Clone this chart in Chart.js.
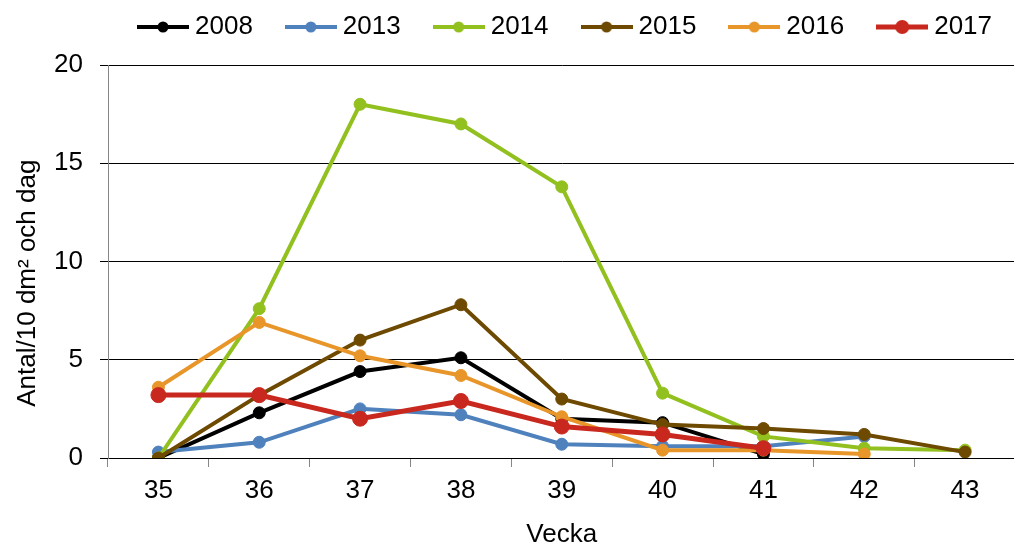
<!DOCTYPE html>
<html><head><meta charset="utf-8">
<script src="https://cdn.jsdelivr.net/npm/chart.js@4/dist/chart.umd.min.js"></script>
<style>html,body{margin:0;padding:0;overflow:hidden;background:#fff}#wrap{width:1024px;height:544px}</style>
</head><body><div id="wrap"><canvas id="c" width="1024" height="544"></canvas></div>
<script>
const weeks = ['35','36','37','38','39','40','41','42','43'];
const yTicks = [0,5,10,15,20];
const s2008 = [0, 2.3, 4.4, 5.1, 2.0, 1.8, 0.2, null, null];
const s2013 = [0.3, 0.8, 2.5, 2.2, 0.7, 0.6, 0.6, 1.1, null];
const s2014 = [0, 7.6, 18.0, 17.0, 13.8, 3.3, 1.1, 0.5, 0.4];
const s2015 = [0, 3.2, 6.0, 7.8, 3.0, 1.7, 1.5, 1.2, 0.3];
const s2016 = [3.6, 6.9, 5.2, 4.2, 2.1, 0.4, 0.4, 0.2, null];
const s2017 = [3.2, 3.2, 2.0, 2.9, 1.6, 1.2, 0.5, null, null];
const seriesNames = ['2008','2013','2014','2015','2016','2017'];
const seriesData = [s2008, s2013, s2014, s2015, s2016, s2017];
const colors = ['#000000','#4F81BD','#92C01F','#6E4A00','#E8962A','#C8281E'];
const lineWidths = [4, 4, 4, 4, 4, 5];
const pointRadii = [6, 6, 6, 6, 6, 7.5];

const FONT = "'Liberation Sans', Arial, sans-serif";
const FS = 26;

function legendIcon(color, lw, r){
  const c = document.createElement('canvas'); c.width = 52; c.height = 16;
  const x = c.getContext('2d');
  x.strokeStyle = color; x.lineWidth = lw;
  x.beginPath(); x.moveTo(0,8); x.lineTo(52,8); x.stroke();
  x.fillStyle = color; x.beginPath(); x.arc(26,8,r,0,Math.PI*2); x.fill();
  return c;
}
const icons = colors.map((c,i)=>legendIcon(c, lineWidths[i], pointRadii[i] - 0.5));

const LPAD = 39;
const legendTweak = {
  id: 'legendTweak',
  beforeInit(chart){
    const orig = chart.legend.fit;
    chart.legend.fit = function(){ orig.bind(chart.legend)(); this.height = 65; };
  },
  afterLayout(chart){
    const lg = chart.legend;
    lg.left = 144 - LPAD; lg.right = 1400; lg.top = 27 - LPAD - FS/2;
  }
};

const datasets = seriesNames.map((n,i)=>({
  label: n,
  data: seriesData[i],
  borderColor: colors[i],
  backgroundColor: colors[i],
  pointBackgroundColor: colors[i],
  pointBorderColor: colors[i],
  borderWidth: lineWidths[i],
  pointRadius: pointRadii[i],
  pointBorderWidth: 1,
  pointHoverRadius: pointRadii[i],
  tension: 0,
  spanGaps: false,
  order: 6 - i
}));

new Chart(document.getElementById('c'), {
  type: 'line',
  data: { labels: weeks, datasets },
  plugins: [legendTweak],
  options: {
    responsive: false,
    animation: false,
    devicePixelRatio: 1,
    layout: { padding: { left: 0, right: 2, top: 0, bottom: 0 } },
    plugins: {
      tooltip: { enabled: false },
      legend: {
        display: true,
        position: 'top',
        align: 'start',
        labels: {
          usePointStyle: true,
          pointStyleWidth: 38,
          padding: LPAD,
          color: '#000',
          font: { family: FONT, size: FS },
          generateLabels(chart){
            return chart.data.datasets.map((ds,i)=>({
              text: ds.label, fillStyle: ds.borderColor, strokeStyle: ds.borderColor,
              lineWidth: 0, pointStyle: icons[i], datasetIndex: i, hidden: false, fontColor: '#000'
            }));
          }
        }
      }
    },
    scales: {
      x: {
        type: 'category',
        offset: true,
        afterFit(s){ s.height = 86; },
        grid: { offset: true, drawOnChartArea: false, drawTicks: true, tickLength: 9, color: '#868686', lineWidth: 1 },
        border: { display: true, color: '#000000', width: 1 },
        ticks: { color: '#000', font: { family: FONT, size: FS }, padding: 8, maxRotation: 0, autoSkip: false },
        title: { display: true, text: 'Vecka', color: '#000', font: { family: FONT, size: FS, lineHeight: 0.7 }, padding: { top: 0, bottom: 0 } }
      },
      y: {
        min: 0, max: 20,
        afterFit(s){ s.width = 108; },
        afterBuildTicks(s){ s.ticks = yTicks.map(v=>({value:v})); },
        grid: { color: '#000000', lineWidth: 1, tickLength: 8, drawTicks: true },
        border: { display: true, color: '#868686', width: 1 },
        ticks: { color: '#000', font: { family: FONT, size: FS }, padding: 17 },
        title: { display: true, text: 'Antal/10 dm² och dag      ', color: '#000', font: { family: FONT, size: FS, lineHeight: 1.2 }, padding: { top: 12, bottom: 0 } }
      }
    }
  }
});
</script>
</body></html>
